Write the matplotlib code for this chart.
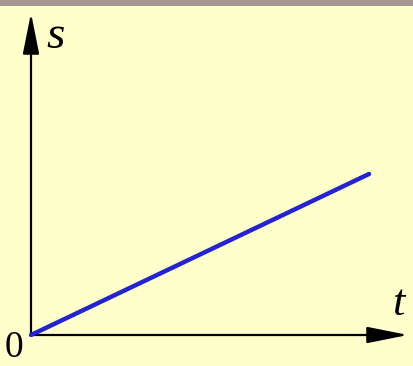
import matplotlib
matplotlib.use("Agg")
import matplotlib.pyplot as plt
from matplotlib.patches import Rectangle

# data
t_vals = [0, 10]
s_vals = [0, 5]
x_label = "t"
y_label = "s"
origin_label = "0"

W, H = 413, 366
fig = plt.figure(figsize=(W / 100, H / 100), dpi=100)
fig.patch.set_facecolor("#FFFFCC")

# top grey strip
fig.patches.append(Rectangle((0, 1 - 6 / H), 1, 6 / H, transform=fig.transFigure,
                             facecolor="#A69890", edgecolor="none", zorder=0))

ax = fig.add_axes([31 / W, 31 / H, (408 - 31) / W, (335 - 13) / H])
ax.set_facecolor("none")
ax.set_xlim(0, 377 / 33.8)
ax.set_ylim(0, 10)
for sp in ax.spines.values():
    sp.set_visible(False)
ax.set_xticks([])
ax.set_yticks([])

# axes with arrows
arrow_kw = dict(arrowstyle="-|>,head_length=1.8,head_width=0.36", color="black",
                lw=1.6, shrinkA=0, shrinkB=0, mutation_scale=14)
ax.annotate("", xy=(1, 0), xytext=(0, 0), xycoords="axes fraction",
            arrowprops=arrow_kw, annotation_clip=False)
ax.annotate("", xy=(0, 1), xytext=(0, 0), xycoords="axes fraction",
            arrowprops=arrow_kw, annotation_clip=False)

# line
ax.plot(t_vals, s_vals, color="#2323D2", lw=3.2, solid_capstyle="round",
        clip_on=False, zorder=3)

serif = ["Liberation Serif", "DejaVu Serif"]
fig.text(46 / W, 1 - 37 / H, y_label, family=serif, style="italic", fontsize=34,
         va="center", ha="left")
fig.text(398 / W, 1 - 304 / H, x_label, family=serif, style="italic", fontsize=32,
         va="center", ha="center")
fig.text(14 / W, 1 - 348 / H, origin_label, family=serif, fontsize=27,
         va="center", ha="center")

fig.savefig("out.png", dpi=100, facecolor=fig.get_facecolor())
